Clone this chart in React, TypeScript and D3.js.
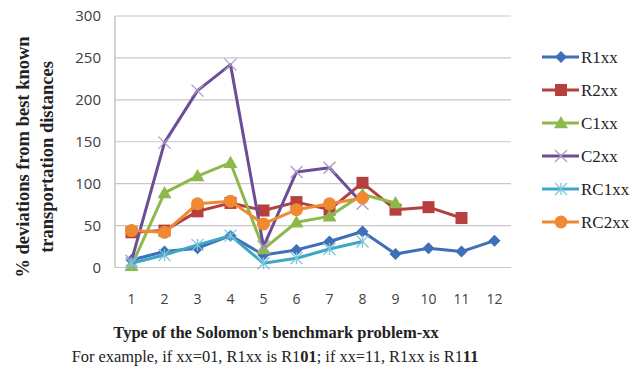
import React from "react";
import * as d3 from "d3";

const categories = ["1", "2", "3", "4", "5", "6", "7", "8", "9", "10", "11", "12"];
const yTicks = [0, 50, 100, 150, 200, 250, 300];

const seriesNames = ["R1xx", "R2xx", "C1xx", "C2xx", "RC1xx", "RC2xx"];
const r1 = [9, 19, 23, 38, 15, 21, 31, 43, 16, 23, 19, 32];
const r2 = [42, 44, 67, 77, 68, 78, 69, 101, 69, 72, 59];
const c1 = [2, 89, 109, 125, 22, 54, 61, 87, 77];
const c2 = [8, 149, 211, 242, 25, 114, 119, 76];
const rc1 = [5, 15, 27, 38, 5, 11, 22, 31];
const rc2 = [44, 42, 76, 79, 52, 69, 76, 83];
const colors = ["#3E6FB8", "#B5403D", "#8DB84A", "#6B4D98", "#3FA7C6", "#F08A32"];
const markers = ["diamond", "square", "triangle", "x", "star", "circle"];

const W = 642, H = 372;
const plot = { left: 115, right: 511, top: 16, bottom: 267.5 };
const SERIF = "'Liberation Serif', 'Times New Roman', Times, 'DejaVu Serif', serif";
const SANS = "'Open Sans', 'Liberation Sans', sans-serif";

function Marker({ type, x, y, color }: { type: string; x: number; y: number; color: string }) {
  if (type === "diamond") {
    const s = 6;
    return <path d={`M${x},${y - s}L${x + s},${y}L${x},${y + s}L${x - s},${y}Z`} fill={color} />;
  }
  if (type === "square") {
    const s = 6;
    return <rect x={x - s} y={y - s} width={2 * s} height={2 * s} fill={color} />;
  }
  if (type === "triangle") {
    const s = 7;
    return <path d={`M${x},${y - s}L${x + s},${y + s * 0.75}L${x - s},${y + s * 0.75}Z`} fill={color} />;
  }
  if (type === "x") {
    const s = 6;
    return (
      <path d={`M${x - s},${y - s}L${x + s},${y + s}M${x - s},${y + s}L${x + s},${y - s}`} stroke="#A99BC6" strokeWidth={1.3} />
    );
  }
  if (type === "star") {
    const s = 6;
    return (
      <path
        d={`M${x - s},${y - s}L${x + s},${y + s}M${x - s},${y + s}L${x + s},${y - s}M${x},${y - s}L${x},${y + s}`}
        stroke="#7CC6DC"
        strokeWidth={1.3}
      />
    );
  }
  return <circle cx={x} cy={y} r={6.5} fill={color} />;
}

export default function App() {
  const data = [r1, r2, c1, c2, rc1, rc2];
  const x = d3.scaleBand<string>().domain(categories).range([plot.left, plot.right]);
  const y = d3.scaleLinear().domain([0, 300]).range([plot.bottom, plot.top]);
  const cx = (i: number) => (x(categories[i]) as number) + x.bandwidth() / 2;
  const line = d3
    .line<number>()
    .x((_, i) => cx(i))
    .y((d) => y(d));

  const legendY = d3.scalePoint<string>().domain(seriesNames).range([57, 222]);

  return (
    <svg width={W} height={H} style={{ position: "absolute", left: 0, top: 0, background: "#fff" }}>
      <rect width={W} height={H} fill="#fff" />
      {yTicks.map((t) => (
        <line key={t} x1={plot.left} x2={plot.right} y1={y(t)} y2={y(t)} stroke="#c8c8c8" strokeWidth={1.2} />
      ))}
      <line x1={plot.left} x2={plot.left} y1={plot.top} y2={plot.bottom} stroke="#b8b8b8" strokeWidth={1.2} />
      {yTicks.map((t) => (
        <text key={t} x={101} y={y(t) + 5} textAnchor="end" style={{ fontFamily: SANS }} fontSize={15} fill="#404040">
          {t}
        </text>
      ))}
      {categories.map((c, i) => (
        <text key={c} x={cx(i)} y={304} textAnchor="middle" style={{ fontFamily: SANS }} fontSize={14} fill="#404040">
          {c}
        </text>
      ))}
      {data.map((vals, si) => (
        <g key={si}>
          <path d={line(vals) || ""} fill="none" stroke={colors[si]} strokeWidth={3} strokeLinejoin="round" />
          {vals.map((v, i) => (
            <Marker key={i} type={markers[si]} x={cx(i)} y={y(v)} color={colors[si]} />
          ))}
        </g>
      ))}
      {seriesNames.map((n, si) => {
        const ly = legendY(n) as number;
        return (
          <g key={n}>
            <line x1={542} x2={579} y1={ly} y2={ly} stroke={colors[si]} strokeWidth={3} />
            <Marker type={markers[si]} x={561} y={ly} color={colors[si]} />
            <text x={581} y={ly + 6} style={{ fontFamily: SERIF }} fontSize={17} fill="#222">
              {n}
            </text>
          </g>
        );
      })}
      <g transform="translate(29,157) rotate(-90)" style={{ fontFamily: SERIF }}>
        <text textAnchor="middle" fontWeight="bold" fontSize={18.5} fill="#222">
          % deviations from best known
        </text>
        <text y={24} textAnchor="middle" fontWeight="bold" fontSize={18.5} fill="#222">
          transportation distances
        </text>
      </g>
      <text x={276} y={338} textAnchor="middle" style={{ fontFamily: SERIF }} fontWeight="bold" fontSize={16.5} fill="#222">
        Type of the Solomon's benchmark problem-xx
      </text>
      <text x={275} y={362} textAnchor="middle" style={{ fontFamily: SERIF }} fontSize={16.4} fill="#222">
        For example, if xx=01, R1xx is R1<tspan fontWeight="bold">01</tspan>; if xx=11, R1xx is R1<tspan fontWeight="bold">11</tspan>
      </text>
    </svg>
  );
}
